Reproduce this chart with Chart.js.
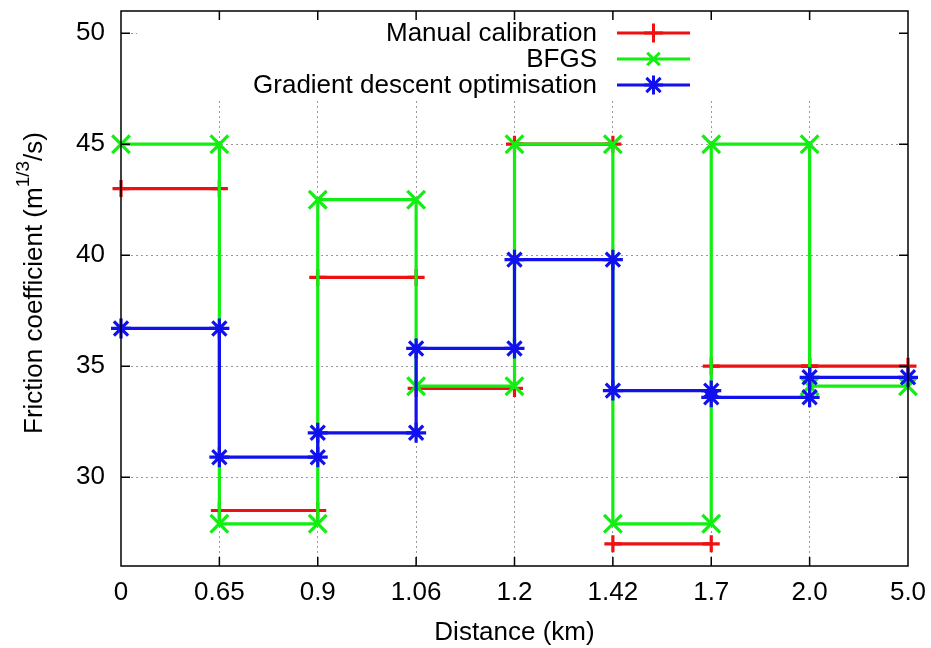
<!DOCTYPE html>
<html>
<head>
<meta charset="utf-8">
<script src="https://cdn.jsdelivr.net/npm/chart.js@4.4.1/dist/chart.umd.min.js"></script>
<style>
  html, body { margin: 0; padding: 0; background: #fff; }
  #chartDiv { width: 931px; height: 648px; }
</style>
</head>
<body>
<div id="chartDiv"><canvas id="myChart"></canvas></div>
<script>
// boundaries of the reaches (km), drawn evenly spaced
const distances = ["0", "0.65", "0.9", "1.06", "1.2", "1.42", "1.7", "2.0", "5.0"];
// one friction value per reach (between two boundaries)
const manualValues = [43, 28.5, 39, 34, 45, 27, 35, 35];
const bfgsValues = [45, 27.9, 42.5, 34.1, 45, 27.9, 45, 34.1];
const gradientValues = [36.7, 30.9, 32, 35.8, 39.8, 33.9, 33.6, 34.5];
const yTicks = [30, 35, 40, 45, 50];

const FONT = '"Liberation Sans", Arial, sans-serif';
const RED = "#ee1111", GREEN = "#11ee11", BLUE = "#1111ee";
const NONE = "rgba(0,0,0,0)";

// turn per-reach values into step points; gaps=true leaves the steps unconnected
function steps(values, gaps) {
  const pts = [];
  values.forEach((v, i) => {
    pts.push({ x: i, y: v }, { x: i + 1, y: v });
    if (gaps) pts.push({ x: i + 1, y: null });
  });
  return pts;
}

function drawMarker(ctx, style, x, y, r) {
  ctx.beginPath();
  if (style === "cross" || style === "star") {
    ctx.moveTo(x - r, y); ctx.lineTo(x + r, y);
    ctx.moveTo(x, y - r); ctx.lineTo(x, y + r);
  }
  if (style === "crossRot" || style === "star") {
    const d = style === "star" ? r * 0.75 : r * 0.707;
    ctx.moveTo(x - d, y - d); ctx.lineTo(x + d, y + d);
    ctx.moveTo(x - d, y + d); ctx.lineTo(x + d, y - d);
  }
  ctx.stroke();
}

// key in the top right corner of the plot, on a white box over the grid
const keyPlugin = {
  id: "key",
  beforeDatasetsDraw(chart) {
    const { ctx, chartArea } = chart;
    ctx.save();
    ctx.fillStyle = "#fff";
    ctx.fillRect(chartArea.left + 16, chartArea.top + 1, chartArea.right - chartArea.left - 17, 89);
    ctx.font = "26px " + FONT;
    ctx.textAlign = "right";
    ctx.textBaseline = "middle";
    ctx.lineWidth = 3;
    chart.data.datasets.forEach((ds, i) => {
      const y = chartArea.top + 22 + i * 26;
      ctx.fillStyle = "#000";
      ctx.fillText(ds.label, 597, y + 1);
      ctx.strokeStyle = ds.borderColor;
      ctx.beginPath();
      ctx.moveTo(617, y); ctx.lineTo(690, y);
      ctx.stroke();
      drawMarker(ctx, ds.pointStyle, 653.5, y, ds.pointStyle === "crossRot" ? 12.5 * 0.707 : 9.5);
    });
    ctx.restore();
  },
  afterDraw(chart) {
    const { ctx, chartArea, scales } = chart;
    const { left, right, top, bottom } = chartArea;
    ctx.save();
    ctx.strokeStyle = "#000";
    ctx.lineWidth = 1.5;
    ctx.beginPath();
    // inward ticks, mirrored on both sides
    scales.x.ticks.forEach(t => {
      if (t.value <= 0 || t.value >= distances.length - 1) return;
      const px = scales.x.getPixelForValue(t.value);
      ctx.moveTo(px, bottom); ctx.lineTo(px, bottom - 9);
      ctx.moveTo(px, top); ctx.lineTo(px, top + 9);
    });
    scales.y.ticks.forEach(t => {
      const py = scales.y.getPixelForValue(t.value);
      ctx.moveTo(left, py); ctx.lineTo(left + 9, py);
      ctx.moveTo(right, py); ctx.lineTo(right - 9, py);
    });
    ctx.stroke();
    ctx.strokeRect(left, top, right - left, bottom - top);

    // axis titles
    ctx.fillStyle = "#000";
    ctx.font = "26px " + FONT;
    ctx.textAlign = "center";
    ctx.textBaseline = "middle";
    ctx.fillText("Distance (km)", (left + right) / 2, 633);

    const a = "Friction coefficient (m", sup = "1/3", b = "/s)";
    ctx.translate(35, 283);
    ctx.rotate(-Math.PI / 2);
    ctx.textAlign = "left";
    const wa = ctx.measureText(a).width, wb = ctx.measureText(b).width;
    ctx.font = "19px " + FONT;
    const ws = ctx.measureText(sup).width;
    let x = -(wa + ws + wb) / 2;
    ctx.font = "26px " + FONT;
    ctx.fillText(a, x, 0);
    x += wa;
    ctx.font = "19px " + FONT;
    ctx.fillText(sup, x, -11);
    x += ws;
    ctx.font = "26px " + FONT;
    ctx.fillText(b, x, 0);
    ctx.restore();
  }
};

const ctx = document.getElementById("myChart");

new Chart(ctx, {
  type: "line",
  data: {
    datasets: [
      {
        label: "Manual calibration",
        data: steps(manualValues, true),
        borderColor: RED,
        pointBorderColor: RED,
        pointBackgroundColor: RED,
        pointStyle: "cross",
        pointRadius: 8.5,
        order: 3,
      },
      {
        label: "BFGS",
        data: steps(bfgsValues, false),
        borderColor: GREEN,
        pointBorderColor: GREEN,
        pointBackgroundColor: GREEN,
        pointStyle: "crossRot",
        pointRadius: 12.5,
        order: 2,
      },
      {
        label: "Gradient descent optimisation",
        data: steps(gradientValues, false),
        borderColor: BLUE,
        pointBorderColor: BLUE,
        pointBackgroundColor: BLUE,
        pointStyle: "star",
        pointRadius: 10,
        order: 1,
      },
    ],
  },
  options: {
    responsive: true,
    maintainAspectRatio: false,
    animation: false,
    events: [],
    datasets: {
      line: { borderWidth: 3.2, pointBorderWidth: 3.2, tension: 0, fill: false, clip: false, spanGaps: false },
    },
    layout: { autoPadding: false, padding: { top: 11, right: 23, left: 0, bottom: 0 } },
    plugins: { legend: { display: false }, tooltip: { enabled: false } },
    scales: {
      x: {
        type: "linear",
        min: 0,
        max: distances.length - 1,
        afterBuildTicks: s => { s.ticks = distances.map((d, i) => ({ value: i })); },
        afterFit: s => { s.height = 82; },
        ticks: {
          callback: v => distances[v],
          color: "#000",
          font: { family: FONT, size: 26 },
          padding: 0,
          maxRotation: 0,
          autoSkip: false,
        },
        grid: {
          drawTicks: true,
          tickLength: 11,
          tickColor: NONE,
          color: c => (c.index === 0 || c.index === distances.length - 1) ? NONE : "#999",
          lineWidth: 1,
        },
        border: { display: false, dash: [2, 3] },
      },
      y: {
        type: "linear",
        min: 26,
        max: 51,
        afterBuildTicks: s => { s.ticks = yTicks.map(v => ({ value: v })); },
        afterFit: s => { s.width = 121; },
        ticks: {
          color: "#000",
          font: { family: FONT, size: 26, lineHeight: 0.8 },
          padding: 0,
        },
        grid: { drawTicks: true, tickLength: 16, tickColor: NONE, color: "#999", lineWidth: 1 },
        border: { display: false, dash: [2, 3] },
      },
    },
  },
  plugins: [keyPlugin],
});
</script>
</body>
</html>
